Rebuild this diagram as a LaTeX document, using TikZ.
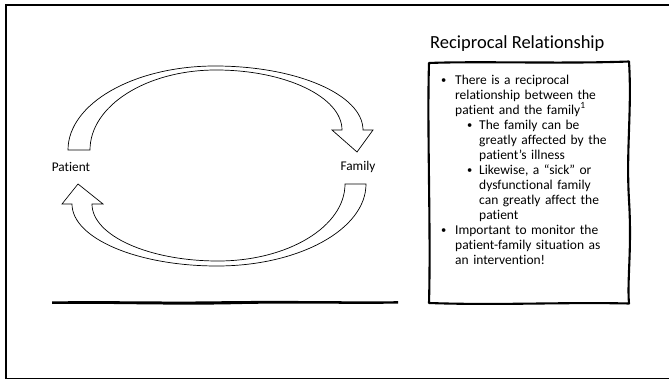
\documentclass[tikz,border=0pt]{standalone}
\usepackage{fontspec}
\setmainfont{Carlito}[Ligatures=NoCommon]
\tikzset{
  blockarrow/.style={draw=black, line width=0.7pt, fill=white, line join=miter},
  sketch/.style={draw=black, line width=2.1pt, line join=round, line cap=round},
  label/.style={font=\fontsize{13.3}{15}\selectfont, inner sep=0pt},
}
\newcommand{\dotmark}{\raisebox{0.7pt}{\fontsize{10.5}{10}\selectfont\textbullet}\hfill}
\newcommand{\bulletlist}[2]{%
  \begin{list}{\dotmark}{\setlength{\leftmargin}{#1}\setlength{\labelwidth}{#2}%
    \setlength{\labelsep}{0pt}\setlength{\itemsep}{0pt}\setlength{\parsep}{0pt}%
    \setlength{\topsep}{0pt}\setlength{\partopsep}{0pt}}}
\begin{document}
\begin{tikzpicture}[x=1pt, y=-1pt]
    \useasboundingbox (0,0) rectangle (669,379);
    \begin{scope}
    \clip (0,0) rectangle (669,379);
    \draw[line width=1.4pt] (6,5) rectangle (690,378.3);
    \end{scope}

    \node[label] (patient) at (71,167) {Patient};
    \node[label] (family) at (358,167) {Family};

    \draw[blockarrow] (68,150) .. controls (68,103.6) and (133.9,66) .. (215,66)
        .. controls (296.7,66) and (363,94.7) .. (363,130)
        -- (373,130) -- (357,152) -- (332,130) -- (342,130)
        .. controls (342,97) and (285.6,70) .. (216,70)
        .. controls (146.4,70) and (90,105.8) .. (90,150) -- cycle;
    \draw[blockarrow] (366,184) .. controls (366,229.3) and (299.2,266) .. (217,266)
        .. controls (137,266) and (72,238.2) .. (72,204)
        -- (62,204) -- (78,184) -- (103,204) -- (92,204)
        .. controls (92,235.5) and (148.4,261) .. (218,261)
        .. controls (288.1,261) and (345,226.5) .. (345,184) -- cycle;

    \fill (52,301.4) .. controls (120,300.6) and (160,302.2) .. (225,301.2)
        .. controls (300,300.4) and (350,301.8) .. (398,301.2)
        -- (398,303.6) .. controls (340,304.4) and (290,302.6) .. (225,304.4)
        .. controls (150,305.2) and (110,303.2) .. (52,304) -- cycle;

    \node[anchor=west, inner sep=0pt, font=\fontsize{18.5}{22}\selectfont] (title) at (430,44) {Reciprocal Relationship};
    \draw[sketch] (429,63) .. controls (480,61) and (560,64) .. (629,61.5)
        .. controls (632,110) and (626,150) .. (629,200)
        .. controls (632,250) and (627,280) .. (629,303.5)
        .. controls (560,302) and (500,305.5) .. (429,303)
        .. controls (431,230) and (427,130) .. cycle;

    \node[anchor=north west, inner sep=0pt, text width=186pt, align=left,
        font=\fontsize{13.5}{15}\selectfont] (points) at (441,69) {%
    \bulletlist{14pt}{14pt}
    \item There is a reciprocal\\ relationship between the\\ patient and the family\textsuperscript{1}
      \bulletlist{24pt}{12pt}
      \item The family can be\\ greatly affected by the\\ patient’s illness
      \item Likewise, a “sick” or\\ dysfunctional family\\ can greatly affect the\\ patient
      \end{list}
    \item Important to monitor the\\ patient-family situation as\\ an intervention!
    \end{list}};
\end{tikzpicture}
\end{document}
